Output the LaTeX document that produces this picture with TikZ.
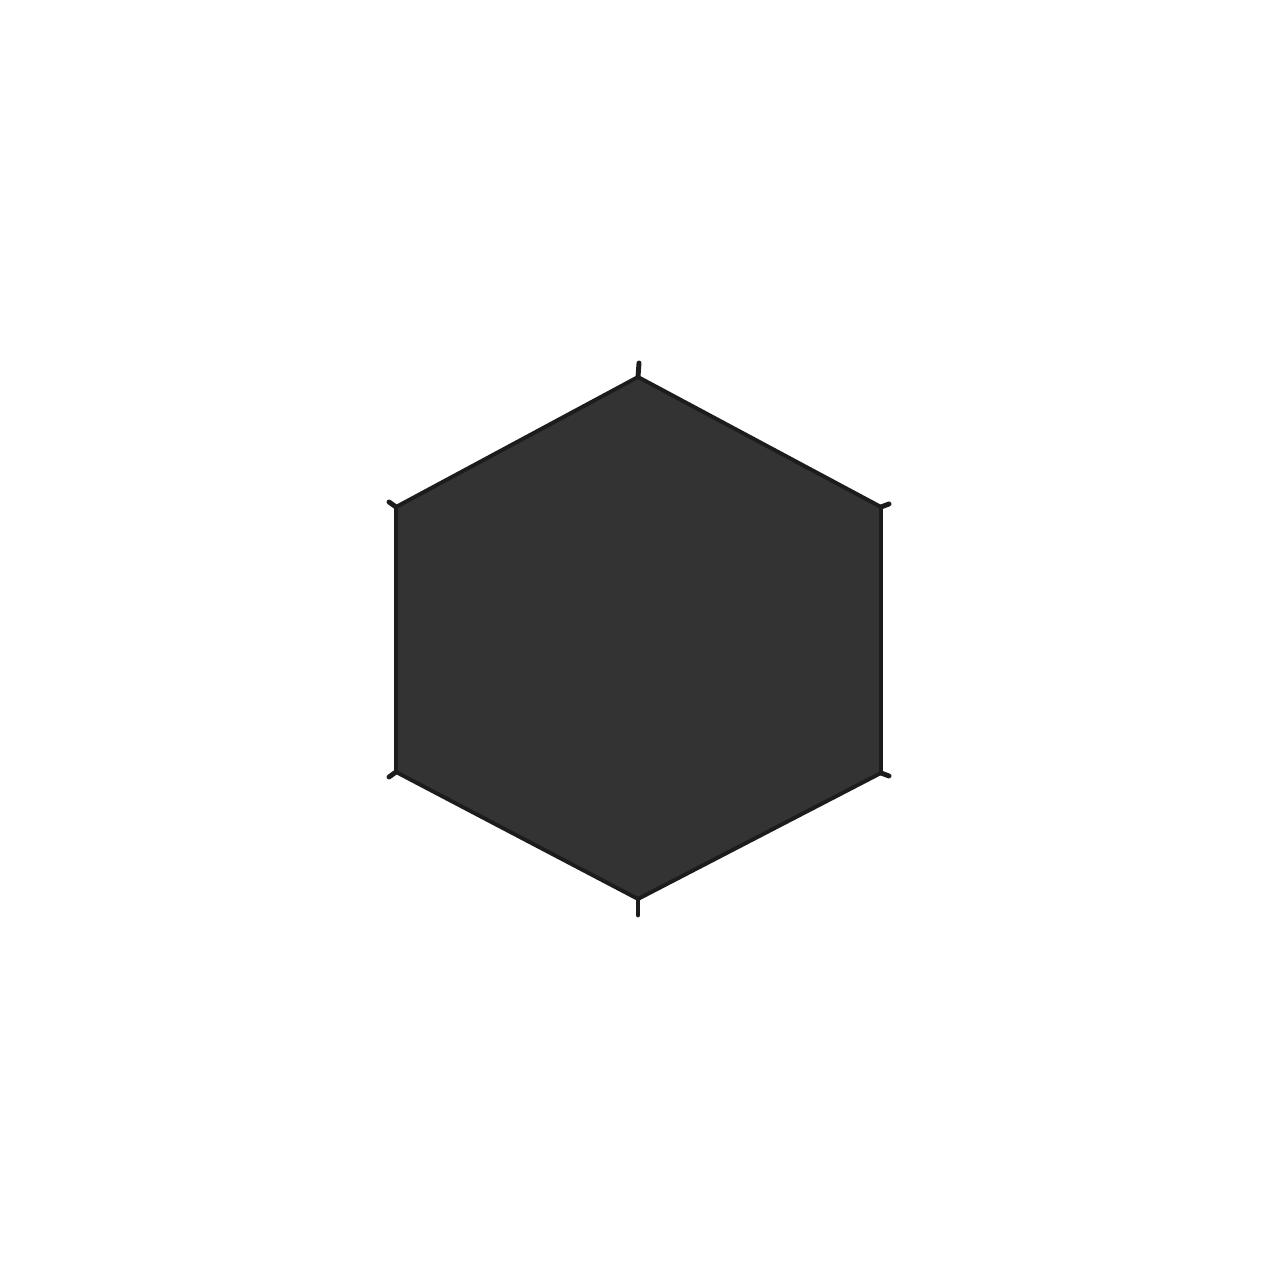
\documentclass[tikz,border=0pt]{standalone}
\usepackage{tikz}
\definecolor{panel}{HTML}{333333}
\definecolor{edge}{HTML}{1C1C1C}
\begin{document}
\begin{tikzpicture}[
        % Style for the hexagonal panel
        panel/.style={fill=panel, draw=edge, line width=1.1pt, line join=round},
        % Style for the small ties at the corners
        tie/.style={draw=edge, line width=1.4pt, line cap=round}
    ]
        % --- Fixes the margins of the picture ---
        \useasboundingbox (0,0) rectangle (12.8,12.8);

        % --- Corners of the hexagon ---
        \coordinate (T)  at (6.38, 9.03);
        \coordinate (TR) at (8.81, 7.73);
        \coordinate (BR) at (8.81, 5.07);
        \coordinate (B)  at (6.38, 3.81);
        \coordinate (BL) at (3.96, 5.08);
        \coordinate (TL) at (3.96, 7.73);

        % --- Draws the panel ---
        \path[panel] (T) -- (TR) -- (BR) -- (B) -- (BL) -- (TL) -- cycle;

        % --- Ties at each corner ---
        \coordinate (tT)  at (6.39, 9.17);
        \coordinate (tTR) at (8.89, 7.76);
        \coordinate (tBR) at (8.89, 5.04);
        \coordinate (tB)  at (6.38, 3.65);
        \coordinate (tBL) at (3.89, 5.03);
        \coordinate (tTL) at (3.89, 7.78);

        \draw[tie] (T) -- (tT);
        \draw[tie] (TR) -- (tTR);
        \draw[tie] (BR) -- (tBR);
        \draw[tie] (B) -- (tB);
        \draw[tie] (BL) -- (tBL);
        \draw[tie] (TL) -- (tTL);

    \end{tikzpicture}
\end{document}
